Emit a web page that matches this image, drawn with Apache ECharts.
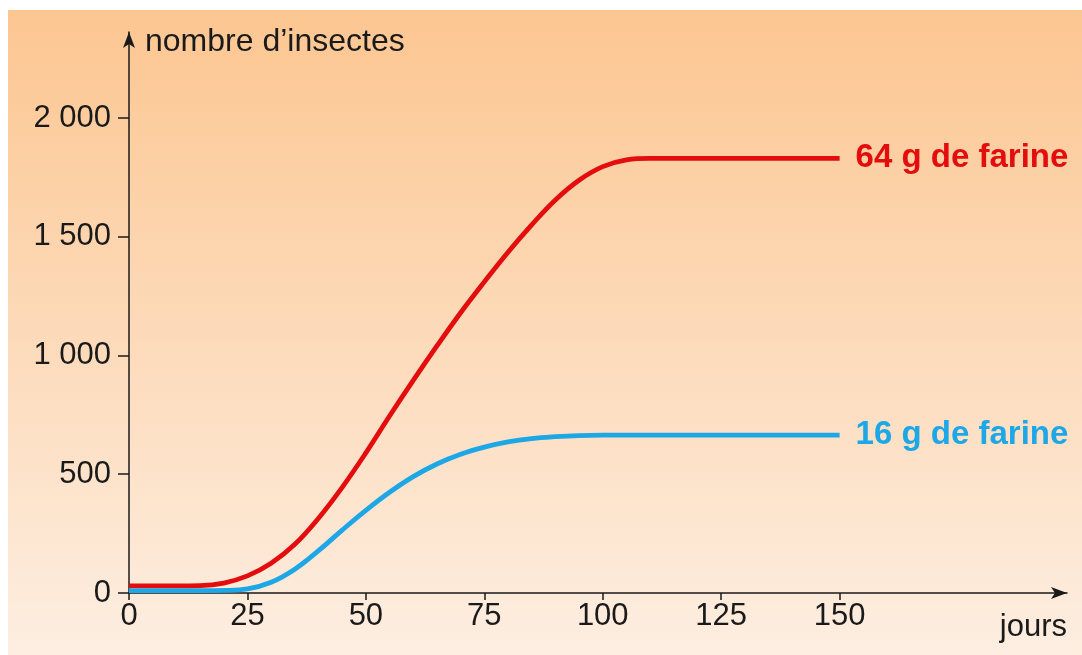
<!DOCTYPE html>
<html>
<head>
<meta charset="utf-8">
<script src="https://cdn.jsdelivr.net/npm/echarts@6/dist/echarts.min.js"></script>
<style>
  html, body { margin: 0; padding: 0; background: #fff; }
  #chart { width: 1082px; height: 655px; }
</style>
</head>
<body>
<div id="chart"></div>
<script>
// jours
var jours = [0, 5, 10, 15, 20, 25, 30, 35, 40, 45, 50, 55, 60, 65, 70, 75,
  80, 85, 90, 95, 100, 105, 110, 115, 120, 125, 130, 135, 140, 145, 150];
// 64 g de farine
var farine64 = [30, 30, 30, 31, 42, 72, 125, 205, 315, 445, 590, 745, 895, 1040, 1180, 1310,
  1435, 1550, 1655, 1738, 1795, 1824, 1830, 1830, 1830, 1830, 1830, 1830, 1830, 1830, 1830];
// 16 g de farine
var farine16 = [10, 10, 10, 10, 11, 17, 45, 100, 178, 265, 348, 424, 490, 543, 584, 614,
  636, 650, 658, 663, 665, 665, 665, 665, 665, 665, 665, 665, 665, 665, 665];
var xTicks = [0, 25, 50, 75, 100, 125, 150];
var yTicks = [0, 500, 1000, 1500, 2000];

function pairs(xs, ys) {
  return xs.map(function (x, i) { return [x, ys[i]]; });
}

var chart = echarts.init(document.getElementById('chart'));
var font = '"Liberation Sans", Arial, sans-serif';

var option = {
  animation: false,
  graphic: [{
    type: 'rect',
    z: -10,
    shape: { x: 8, y: 10, width: 1074, height: 645 },
    style: {
      fill: new echarts.graphic.LinearGradient(0, 0, 0, 1, [
        { offset: 0, color: '#fcc691' },
        { offset: 1, color: '#fdeee1' }
      ])
    }
  }],
  grid: { left: 129, right: 15, top: 32, bottom: 62, containLabel: false },
  xAxis: {
    type: 'value',
    min: 0,
    max: 198,
    name: 'jours',
    nameLocation: 'end',
    nameGap: 0,
    nameTextStyle: {
      fontFamily: font, fontSize: 31, color: '#1a1a1a',
      align: 'right', verticalAlign: 'top', padding: [19, 0, 0, 0]
    },
    splitLine: { show: false },
    axisLine: {
      onZero: false,
      symbol: ['none', 'arrow'],
      symbolSize: [9, 16],
      lineStyle: { color: '#1a1a1a', width: 1.5 }
    },
    axisTick: { show: true, customValues: xTicks, length: 7, inside: false, lineStyle: { color: '#1a1a1a', width: 1.5 } },
    axisLabel: {
      customValues: xTicks,
      fontFamily: font, fontSize: 31, color: '#1a1a1a', margin: 8
    }
  },
  yAxis: {
    type: 'value',
    min: 0,
    max: 2362,
    name: 'nombre d\u2019insectes',
    nameLocation: 'end',
    nameGap: -10,
    nameTextStyle: {
      fontFamily: font, fontSize: 32, color: '#1a1a1a',
      align: 'left', verticalAlign: 'middle', padding: [0, 0, 0, 16]
    },
    splitLine: { show: false },
    axisLine: {
      show: true,
      symbol: ['none', 'arrow'],
      symbolSize: [9, 16],
      lineStyle: { color: '#1a1a1a', width: 1.5 }
    },
    axisTick: { show: true, customValues: yTicks, length: 11, lineStyle: { color: '#1a1a1a', width: 1.5 } },
    axisLabel: {
      customValues: yTicks,
      fontFamily: font, fontSize: 31, color: '#1a1a1a', margin: 18,
      formatter: function (v) {
        return String(v).replace(/\B(?=(\d{3})+(?!\d))/g, ' ');
      }
    }
  },
  series: [{
    name: '64 g de farine',
    type: 'line',
    data: pairs(jours, farine64),
    smooth: 0.4,
    showSymbol: false,
    lineStyle: { color: '#e30d0d', width: 4.8 },
    endLabel: {
      show: true, formatter: '{a}', distance: 16,
      fontFamily: font, fontSize: 33, fontWeight: 'bold', color: '#e30d0d'
    }
  }, {
    name: '16 g de farine',
    type: 'line',
    data: pairs(jours, farine16),
    smooth: 0.4,
    showSymbol: false,
    lineStyle: { color: '#1ea7e6', width: 4.8 },
    endLabel: {
      show: true, formatter: '{a}', distance: 16,
      fontFamily: font, fontSize: 33, fontWeight: 'bold', color: '#1ea7e6'
    }
  }]
};
chart.setOption(option);
</script>
</body>
</html>
